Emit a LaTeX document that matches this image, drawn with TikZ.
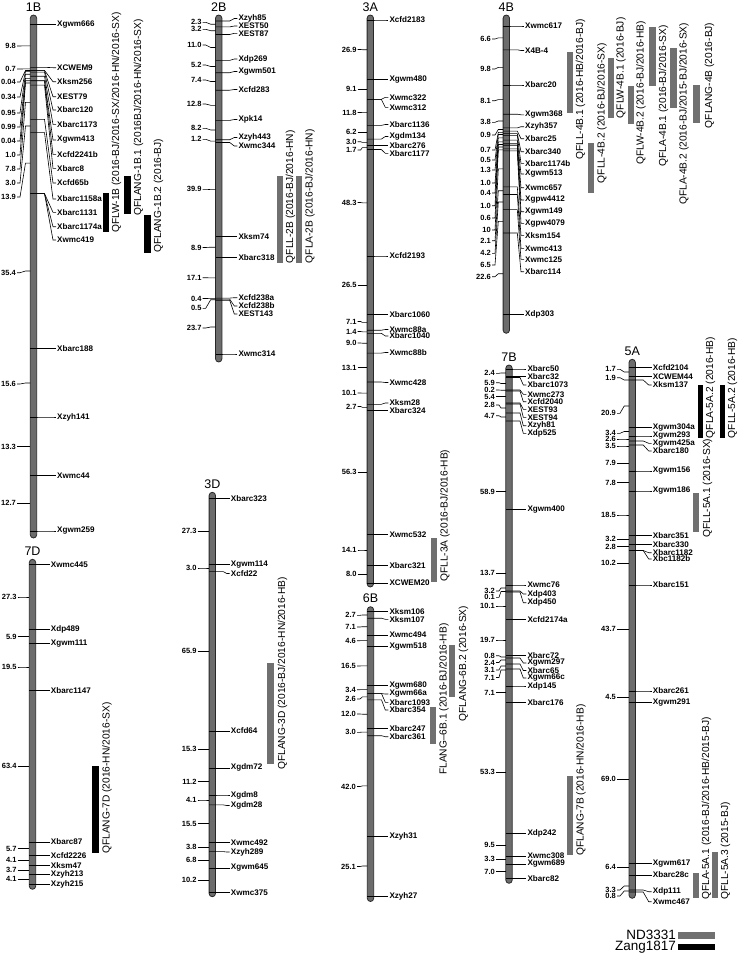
\documentclass[tikz,border=0pt]{standalone}
\usepackage{fontspec}
\setmainfont{Liberation Sans}
\definecolor{chrfill}{RGB}{108,108,108}
\definecolor{chrdraw}{RGB}{40,40,40}
\definecolor{qgray}{RGB}{112,112,112}
\tikzset{
 mk/.style={anchor=west, inner sep=0pt, font=\fontsize{8.1}{8}\selectfont\bfseries},
 nm/.style={anchor=east, inner sep=0pt, font=\fontsize{7.5}{8}\selectfont\bfseries},
 mkl/.style={draw=black, line width=0.6pt},
 chrbar/.style={fill=chrfill, draw=chrdraw, line width=0.8pt, rounded corners=3.2pt},
 chrlab/.style={font=\fontsize{12.5}{13}\selectfont, inner sep=0pt},
 qtltext/.style={rotate=90, anchor=north west, inner sep=0pt, font=\fontsize{10.2}{11}\selectfont},
 legtext/.style={anchor=east, inner sep=0pt, font=\fontsize{13.5}{14}\selectfont},
}
\newcommand{\Chrom}[5]{%
 \node[chrlab] (c#1) at (#2,#5) {#1};
 \draw[chrbar] (#2-3.2,#3) rectangle (#2+3.2,#4);
}
\newcommand{\Markers}[4]{%
 \foreach \yb/\yl/\tx [count=\i] in {#4} {
  \node[mk] (m#1-\i) at (#3,\yl) {\tx};
  \draw[mkl] (#2-3.2,\yb) -- (#2+11,\yb) -- (#3-4,\yl) -- ([xshift=-1pt]m#1-\i.west);
 }}
\newcommand{\Numbers}[4]{%
 \foreach \yb/\yl/\tx [count=\i] in {#4} {
  \node[nm] (n#1-\i) at (#3,\yl) {\tx};
  \draw[mkl] ([xshift=1pt]n#1-\i.east) -- (#3+4,\yl) -- (#2-8,\yb) -- (#2-3.2,\yb);
 }}
\newcommand{\Qtl}[9]{%
 \fill[#6] (#2,#4) rectangle (#3,#5);
 \node[qtltext] (q#1) at (#7,#8) {#9};
}
\begin{document}
\begin{tikzpicture}[x=1pt,y=-1pt]
\useasboundingbox (0,0) rectangle (738,953);
\fill[white] (0,0) rectangle (738,953);
% ---------------- 1B
\Chrom{1B}{33.5}{15}{538}{7}
\Markers{1B}{33.5}{57}{24.3/24.3/Xgwm666, 67.3/67.7/XCWEM9, 70.4/81.7/Xksm256, 70.6/96.7/XEST79, 72.1/110/Xbarc120, 76.2/124.3/Xbarc1173, 80.6/140/Xgwm413, 80.8/154.3/Xcfd2241b, 85.1/168.3/Xbarc8, 119.4/183/Xcfd65b, 132.6/199/Xbarc1158a, 193.6/212.3/Xbarc1131, 193.6/226.7/Xbarc1174a, 193.6/240/Xwmc419, 348.7/348.7/Xbarc188, 417/417/Xzyh141, 475.6/475.6/Xwmc44, 531/531/Xgwm259}
\Numbers{1B}{33.5}{16}{45.8/46/9.8, 68.9/69/0.7, 70.5/82/0.04, 71.4/97/0.34, 74.2/113/0.95, 78.4/127/0.99, 80.7/141/0.04, 83/155/1.0, 102.3/169/7.8, 126/183/3.0, 163.1/197/13.9, 271/272.7/35.4, 383/384/15.6, 446.5/446.5/13.3, 503.3/503.3/12.7}
\Qtl{1a}{102.7}{109.3}{193.3}{231.7}{black}{111.5}{233}{QFLW-1B (2016-BJ/2016-SX/2016-HN/2016-SX)}
\Qtl{1b}{124.3}{130.7}{176}{214}{black}{133.5}{216}{QFLANG-1B.1 (2016BJ/2016-HN/2016-SX)}
\Qtl{1c}{144.3}{150.7}{215}{253}{black}{153.5}{253}{QFLANG-1B.2 (2016-BJ)}
% ---------------- 2B
\Chrom{2B}{218.7}{15}{362}{7}
\Markers{2B}{218.7}{238.3}{21/18.5/Xzyh85, 26.9/26/XEST50, 34.5/33.3/XEST87, 60.4/59/Xdp269, 72.7/71.5/Xgwm501, 90.2/89.5/Xcfd283, 120.4/119.5/Xpk14, 139.7/137.5/Xzyh443, 142.5/146/Xwmc344, 236.7/236.7/Xksm74, 257.7/257.7/Xbarc318, 298.1/297.7/Xcfd238a, 299.1/306/Xcfd238b, 300.2/314/XEST143, 354/354/Xwmc314}
\Numbers{2B}{218.7}{201.7}{24.2/22.3/2.3, 30.7/29.3/3.2, 47.5/45/11.0, 66.5/65/5.2, 81.5/80/7.4, 105.3/104/12.8, 130/128.3/8.2, 141.1/139.3/1.2, 189.6/189.3/39.9, 247.2/247.5/8.9, 277.9/277.7/17.1, 298.6/298.5/0.4, 299.7/308.3/0.5, 327/328/23.7}
\Qtl{2a}{276.7}{282.7}{175.7}{263.3}{qgray}{285.5}{263.3}{QFLL-2B (2016-BJ/2016-HN)}
\Qtl{2b}{296}{302}{175.7}{263.3}{qgray}{305}{263.3}{QFLA-2B (2016-BJ/2016-HN)}
% ---------------- 3A
\Chrom{3A}{370.3}{15}{587}{7}
\Markers{3A}{370.3}{389.3}{20/20/Xcfd2183, 79.3/79.3/Xgwm480, 99.4/97.3/Xwmc322, 99.4/107.3/Xwmc312, 125.4/124.5/Xbarc1136, 139.1/136.5/Xgdm134, 145.7/145.7/Xbarc276, 149.5/153.3/Xbarc1177, 256/256/Xcfd2193, 314.5/314.5/Xbarc1060, 330.2/329.5/Xwmc88a, 333.3/336/Xbarc1040, 353.1/352.5/Xwmc88b, 382/382.5/Xwmc428, 404.3/403/Xksm28, 410.2/410.2/Xbarc324, 534.4/534.4/Xwmc532, 565.5/565.5/Xbarc321, 583.2/583.2/XCWEM20}
\Numbers{3A}{370.3}{356.7}{49.7/49.5/26.9, 89.4/89.4/9.1, 112.4/112.5/11.8, 132.3/132.3/6.2, 142.4/141.7/3.0, 147.6/150/1.7, 202.8/202.5/48.3, 285.3/285.3/26.5, 322.4/321.5/7.1, 331.8/331.5/1.4, 343.2/343/9.0, 367.5/367.5/13.1, 393.1/393/10.1, 407.3/406.5/2.7, 472.3/472.3/56.3, 550/550/14.1, 574.4/574.4/8.0}
\Qtl{3a}{431}{437.3}{538.3}{581.7}{qgray}{440}{582}{QFLL-3A (2016-BJ/2016-HB)}
% ---------------- 6B
\Chrom{6B}{370.5}{606.7}{901.5}{598}
\Markers{6B}{370.5}{389.3}{611.7/611.7/Xksm106, 618.2/619.3/Xksm107, 635.1/635.1/Xwmc494, 646.1/646.1/Xgwm518, 685.5/685.5/Xgwm680, 693.6/694/Xgwm66a, 693.6/702.3/Xbarc1093, 699.9/710/Xbarc354, 728.5/728.5/Xbarc247, 735.7/736.7/Xbarc361, 836/836/Xzyh31, 896/896/Xzyh27}
\Numbers{6B}{370.5}{356}{615/615.3/2.7, 626.7/627/7.1, 640.6/640.7/4.6, 665.8/666/16.5, 689.6/689.7/3.4, 696.8/699/2.6, 714.2/714/12.0, 732.1/732.3/3.0, 785.9/786.5/42.0, 866/866.5/25.1}
\Qtl{6a}{430}{436}{706.7}{744.3}{qgray}{439}{775}{FLANG--6B.1 (2016-BJ/2016-HB)}
\Qtl{6b}{449}{455.3}{645}{697.3}{qgray}{458.5}{721.7}{QFLANG-6B.2 (2016-SX)}
% ---------------- 4B
\Chrom{4B}{506.3}{15}{333.3}{7}
\Markers{4B}{506.3}{525}{26/26/Xwmc617, 49.8/50.5/X4B-4, 85/85/Xbarc20, 114.2/114.8/Xgwm368, 127.9/126.7/Xzyh357, 131.1/138.7/Xbarc25, 133.6/151.7/Xbarc340, 135.4/163.3/Xbarc1174b, 140.1/174/Xgwm513, 143.7/187.7/Xwmc657, 145.2/200/Xgpw4412, 148.8/211.7/Xgwm149, 150.9/223.3/Xgpw4079, 186.9/235.3/Xksm154, 194.5/248.3/Xwmc413, 209.6/259.3/Xwmc125, 233/271.7/Xbarc114, 314.4/314.4/Xdp303}
\Numbers{4B}{506.3}{491}{37.9/39/6.6, 67.4/69/9.8, 99.6/100.7/8.1, 121/122.3/3.8, 129.5/135/0.9, 132.4/150/0.7, 134.5/160/0.5, 137.8/170/1.3, 141.9/183/1.0, 144.5/193/0.4, 147/205.7/1.0, 149.9/218/0.6, 168.9/230/10, 190.7/240.7/2.1, 202/253.3/4.2, 221.3/265/6.5, 273.7/276.7/22.6}
\Qtl{4a}{566.7}{572.7}{51.7}{112.7}{qgray}{575.5}{160}{QFLL-4B.1 (2016-HB/2016-BJ)}
\Qtl{4b}{587.7}{594}{143.3}{193.3}{qgray}{597}{183.3}{QFLL-4B.2 (2016-BJ/2016-SX)}
\Qtl{4c}{607.7}{614}{58.3}{118.3}{qgray}{616}{118.3}{QFLW-4B.1 (2016-BJ)}
\Qtl{4d}{627.7}{634}{86}{124}{qgray}{636}{165}{QFLW-4B.2 (2016-BJ/2016-HB)}
\Qtl{4e}{649.3}{655.7}{26.7}{86}{qgray}{658.5}{166.7}{QFLA-4B.1 (2016-BJ/2016-SX)}
\Qtl{4f}{670}{676.7}{48.3}{108.3}{qgray}{679}{205}{QFLA-4B.2 (2016-BJ/2015-BJ/2016-SX)}
\Qtl{4g}{693.3}{700}{85}{123.3}{qgray}{704.5}{128.3}{QFLANG-4B (2016-BJ)}
% ---------------- 7B
\Chrom{7B}{509}{365}{883.3}{357}
\Markers{7B}{509}{527.3}{369/369/Xbarc50, 376.7/376.7/Xbarc32, 377.5/385/Xbarc1073, 390/394.3/Xwmc273, 391/401.7/Xcfd2040, 403/409.3/XEST93, 404/417.3/XEST94, 413/425.7/Xzyh81, 421/433.3/Xdp525, 509.3/509.3/Xgwm400, 585/585/Xwmc76, 591/594/Xdp403, 592/602.7/Xdp450, 619.3/619.3/Xcfd2174a, 655.5/655.5/Xbarc72, 658/663/Xgwm297, 664/670.5/Xbarc65, 669/678/Xgwm66c, 686/686/Xdp145, 702.7/702.7/Xbarc176, 833.3/833.3/Xdp242, 856/856/Xwmc308, 864/864/Xgwm689, 878.3/878.3/Xbarc82}
\Numbers{7B}{509}{495}{373/373.3/2.4, 383.5/382.7/5.9, 390.2/390/0.2, 396.7/396.7/5.4, 408/405/2.8, 417/415.7/4.7, 491.7/491.7/58.9, 573.3/573.3/13.7, 588/591/3.2, 591.5/597.3/0.1, 606/606/10.1, 640/640/19.7, 657/655.7/0.8, 660/662.5/2.4, 666/670/3.1, 670/677.5/7.1, 692.7/692.7/7.1, 772.3/772.3/53.3, 845/845/9.5, 859.3/859.3/3.3, 871.7/871.7/7.0}
\Qtl{7a}{566.7}{572.7}{775.7}{855}{qgray}{576}{856}{QFLANG-7B (2016-HN/2016-HB)}
% ---------------- 5A
\Chrom{5A}{632.2}{359.3}{898.3}{351}
\Markers{5A}{632.2}{652.7}{367.7/367.7/Xcfd2104, 376.7/376.7/XCWEM44, 380/385/Xksm137, 427.3/427.3/Xgwm304a, 436/436/Xgwm293, 441/443.3/Xgwm425a, 445/451/Xbarc180, 471/471/Xgwm156, 491/491/Xgwm186, 535.7/535.7/Xbarc351, 544.3/544.3/Xbarc330, 550.5/552.7/Xbarc1182, 550.5/559/Xbc1182b, 585/585/Xbarc151, 691/691/Xbarc261, 702.7/702.7/Xgwm291, 863.3/863.3/Xgwm617, 875/875/Xbarc28c, 890/891.7/Xdp111, 892/901.7/Xwmc467}
\Numbers{5A}{632.2}{616}{372/369.3/1.7, 380/377.7/1.9, 406/413.3/20.9, 431.5/433.3/3.4, 439/439/2.6, 446/446/3.5, 463.3/463.3/7.9, 482.7/482.7/7.8, 515/515/18.5, 539.3/539.3/3.2, 546.7/546.7/2.8, 563.3/563.3/10.2, 629.3/629.3/43.7, 697.3/697.3/4.5, 779.3/779.3/69.0, 867.3/867.3/6.4, 886/890/3.3, 891/896/0.8}
\Qtl{5a}{697.5}{703}{385}{438.3}{black}{705.5}{438.3}{QFLA-5A.2 (2016-HB)}
\Qtl{5b}{719.5}{725}{385}{438.3}{black}{727.5}{438.3}{QFLL-5A.2 (2016-HB)}
\Qtl{5c}{693.3}{699.3}{493.3}{531.7}{qgray}{702.5}{538}{QFLL-5A.1 (2016-SX)}
\Qtl{5d}{692.7}{699}{873.3}{898.3}{qgray}{701.5}{900}{QFLA-5A.1 (2016-BJ/2016-HB/2015-BJ)}
\Qtl{5e}{711.7}{717.7}{851.7}{898.3}{qgray}{720.5}{900}{QFLL-5A.3 (2015-BJ)}
% ---------------- 3D
\Chrom{3D}{212.3}{492.3}{896.7}{484}
\Markers{3D}{212.3}{230.7}{498.3/498.3/Xbarc323, 564.3/564.3/Xgwm114, 571.6/573.5/Xcfd22, 730.9/730.9/Xcfd64, 767.9/767.9/Xgdm72, 795/795/Xgdm8, 804.9/805.5/Xgdm28, 842.4/842.4/Xwmc492, 851.6/852/Xzyh289, 868/868/Xgwm645, 892.7/892.7/Xwmc375}
\Numbers{3D}{212.3}{196.7}{531.3/531.3/27.3, 568/568/3.0, 651.3/651.3/65.9, 749.4/749.4/15.3, 781.5/781.5/11.2, 800/800/4.1, 823.7/823.7/15.5, 847/847/3.8, 859.8/859.8/6.8, 880.4/880.4/10.2}
\Qtl{3d}{266.7}{274.3}{662.7}{764.3}{qgray}{277.5}{770}{QFLANG-3D (2016-BJ/2016-HN/2016-HB)}
% ---------------- 7D
\Chrom{7D}{32.5}{559.3}{889.3}{551}
\Markers{7D}{32.5}{50.7}{564.3/564.3/Xwmc445, 629.6/629.6/Xdp489, 643.7/643.7/Xgwm111, 690.3/690.3/Xbarc1147, 841.9/841.9/Xbarc87, 855.5/855.5/Xcfd2226, 865.3/865.3/Xksm47, 874.2/874.2/Xzyh213, 884/884/Xzyh215}
\Numbers{7D}{32.5}{16.7}{597/597/27.3, 636.7/636.7/5.9, 667/667/19.5, 766.1/766.1/63.4, 848.7/848.7/5.7, 860.4/860.4/4.1, 869.8/869.8/3.7, 879.1/879.1/4.1}
\Qtl{7d}{92.3}{99}{766}{853.3}{black}{102}{854}{QFLANG-7D (2016-HN/2016-SX)}
% ---------------- legend
\fill[qgray] (678.3,931.5) rectangle (715,938.5);
\node[legtext] (legA) at (676,934.5) {ND3331};
\fill[black] (678.3,943.5) rectangle (715,950);
\node[legtext] (legB) at (676,947) {Zang1817};
\end{tikzpicture}
\end{document}
